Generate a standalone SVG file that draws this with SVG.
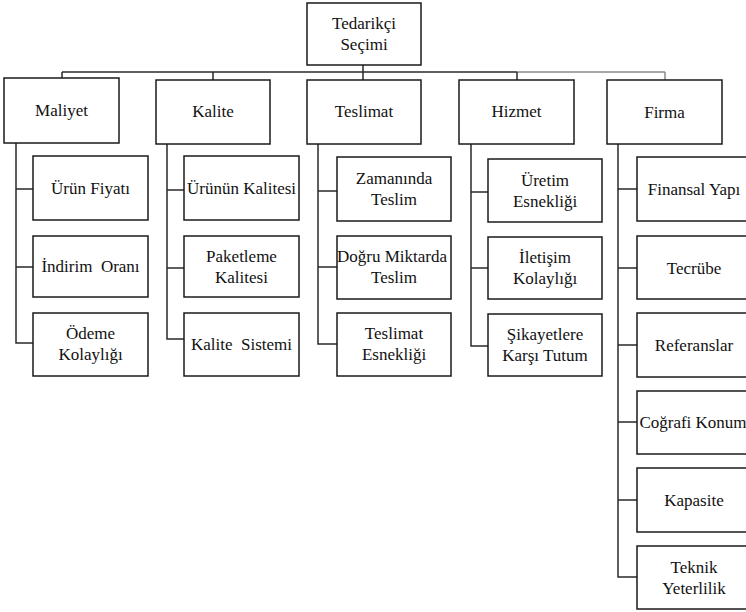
<svg xmlns="http://www.w3.org/2000/svg" width="746" height="612" viewBox="0 0 746 612">
  <style>
    .box { fill: #ffffff; stroke: #1a1a1a; stroke-width: 1.5; }
    .lbl { font-family: 'Times New Roman', Times, 'Liberation Serif', Tinos, 'Noto Serif', 'DejaVu Serif', serif; font-size: 17px; fill: #111111; text-anchor: middle; white-space: pre; }
    .wire { fill: none; stroke: #2a2a2a; stroke-width: 1.5; }
    .wire-light { fill: none; stroke: #8a8a8a; stroke-width: 1.5; }
  </style>
  <rect width="746" height="612" fill="#ffffff"/>

  <!-- connectors -->
  <g id="connectors">
    <!-- root to bus -->
    <path class="wire" d="M363,65 V72"/>
    <!-- bus -->
    <path class="wire" d="M62,72 H517"/>
    <path class="wire-light" d="M517,72 H665"/>
    <!-- drops to category boxes -->
    <path class="wire" d="M62,72 V78 M213,72 V80 M363,72 V80 M517,72 V80"/>
    <path class="wire-light" d="M665,72 V80"/>
    <!-- Maliyet branch -->
    <path class="wire" d="M16,143 V343 H33 M16,189 H33 M16,267 H33"/>
    <!-- Kalite branch -->
    <path class="wire" d="M167,144 V339 H184 M167,190 H184 M167,268 H184"/>
    <!-- Teslimat branch -->
    <path class="wire" d="M318,144 V344 H337 M318,191 H337 M318,267 H337"/>
    <!-- Hizmet branch -->
    <path class="wire" d="M471,144 V346 H488 M471,192 H488 M471,268 H488"/>
    <!-- Firma branch -->
    <path class="wire" d="M618,144 V577 H637 M618,189 H637 M618,268 H637 M618,345 H637 M618,422 H637 M618,500 H637"/>
  </g>

  <!-- root -->
  <g id="root">
    <rect class="box" x="307" y="3" width="114" height="62"/>
    <text class="lbl" x="364" y="29">Tedarikçi</text>
    <text class="lbl" x="364" y="50">Seçimi</text>
  </g>

  <!-- categories -->
  <g id="maliyet">
    <rect class="box" x="4" y="78" width="115" height="65"/>
    <text class="lbl" x="61.5" y="116">Maliyet</text>
  </g>
  <g id="kalite">
    <rect class="box" x="156" y="80" width="114" height="64"/>
    <text class="lbl" x="213" y="117">Kalite</text>
  </g>
  <g id="teslimat">
    <rect class="box" x="307" y="80" width="114" height="64"/>
    <text class="lbl" x="364" y="117">Teslimat</text>
  </g>
  <g id="hizmet">
    <rect class="box" x="459" y="80" width="115" height="64"/>
    <text class="lbl" x="516.5" y="117">Hizmet</text>
  </g>
  <g id="firma">
    <rect class="box" x="607" y="80" width="115" height="64"/>
    <text class="lbl" x="664.5" y="118">Firma</text>
  </g>

  <!-- Maliyet criteria -->
  <g id="urun-fiyati">
    <rect class="box" x="33" y="156" width="115" height="64"/>
    <text class="lbl" x="90.5" y="194">Ürün Fiyatı</text>
  </g>
  <g id="indirim-orani">
    <rect class="box" x="33" y="236" width="115" height="61"/>
    <text class="lbl" x="90.5" y="272">İndirim  Oranı</text>
  </g>
  <g id="odeme-kolayligi">
    <rect class="box" x="33" y="313" width="115" height="63"/>
    <text class="lbl" x="90.5" y="339">Ödeme</text>
    <text class="lbl" x="90.5" y="360">Kolaylığı</text>
  </g>

  <!-- Kalite criteria -->
  <g id="urunun-kalitesi">
    <rect class="box" x="184" y="156" width="115" height="64"/>
    <text class="lbl" x="241.5" y="194">Ürünün Kalitesi</text>
  </g>
  <g id="paketleme-kalitesi">
    <rect class="box" x="184" y="236" width="115" height="61"/>
    <text class="lbl" x="241.5" y="262">Paketleme</text>
    <text class="lbl" x="241.5" y="283">Kalitesi</text>
  </g>
  <g id="kalite-sistemi">
    <rect class="box" x="184" y="313" width="115" height="63"/>
    <text class="lbl" x="241.5" y="350">Kalite  Sistemi</text>
  </g>

  <!-- Teslimat criteria -->
  <g id="zamaninda-teslim">
    <rect class="box" x="337" y="157" width="114" height="64"/>
    <text class="lbl" x="394" y="184">Zamanında</text>
    <text class="lbl" x="394" y="205">Teslim</text>
  </g>
  <g id="dogru-miktarda-teslim">
    <rect class="box" x="337" y="236" width="114" height="63"/>
    <text class="lbl" x="392" y="262">Doğru Miktarda</text>
    <text class="lbl" x="394" y="283">Teslim</text>
  </g>
  <g id="teslimat-esnekligi">
    <rect class="box" x="337" y="313" width="114" height="63"/>
    <text class="lbl" x="394" y="339">Teslimat</text>
    <text class="lbl" x="394" y="360">Esnekliği</text>
  </g>

  <!-- Hizmet criteria -->
  <g id="uretim-esnekligi">
    <rect class="box" x="488" y="159" width="114" height="63"/>
    <text class="lbl" x="545" y="186">Üretim</text>
    <text class="lbl" x="545" y="207">Esnekliği</text>
  </g>
  <g id="iletisim-kolayligi">
    <rect class="box" x="488" y="237" width="114" height="62"/>
    <text class="lbl" x="545" y="263">İletişim</text>
    <text class="lbl" x="545" y="284">Kolaylığı</text>
  </g>
  <g id="sikayetlere-karsi-tutum">
    <rect class="box" x="488" y="314" width="114" height="62"/>
    <text class="lbl" x="545" y="340">Şikayetlere</text>
    <text class="lbl" x="545" y="361">Karşı Tutum</text>
  </g>

  <!-- Firma criteria -->
  <g id="finansal-yapi">
    <rect class="box" x="637" y="157" width="115" height="64"/>
    <text class="lbl" x="694" y="195">Finansal Yapı</text>
  </g>
  <g id="tecrube">
    <rect class="box" x="637" y="236" width="115" height="63"/>
    <text class="lbl" x="694" y="274">Tecrübe</text>
  </g>
  <g id="referanslar">
    <rect class="box" x="637" y="313" width="115" height="64"/>
    <text class="lbl" x="694" y="351">Referanslar</text>
  </g>
  <g id="cografi-konum">
    <rect class="box" x="637" y="391" width="115" height="63"/>
    <text class="lbl" x="693" y="428">Coğrafi Konum</text>
  </g>
  <g id="kapasite">
    <rect class="box" x="637" y="468" width="115" height="64"/>
    <text class="lbl" x="694" y="506">Kapasite</text>
  </g>
  <g id="teknik-yeterlilik">
    <rect class="box" x="637" y="546" width="115" height="63"/>
    <text class="lbl" x="694" y="573">Teknik</text>
    <text class="lbl" x="694" y="594">Yeterlilik</text>
  </g>
</svg>
